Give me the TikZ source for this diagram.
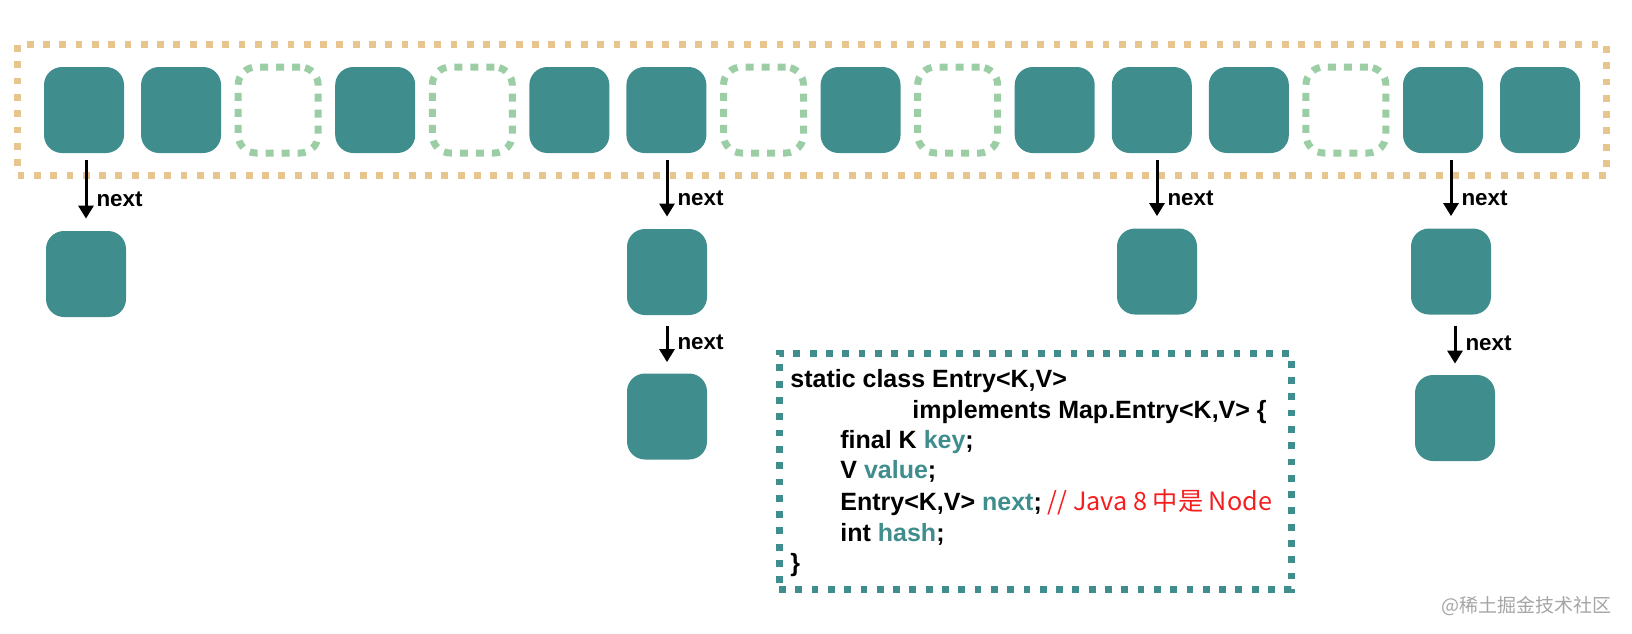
\documentclass[tikz,border=0pt]{standalone}
\usepackage{fontspec}
\setmainfont{Liberation Sans}
\newfontfamily\cjkfont{Noto Sans CJK SC}
\usepackage{tikz}
\usetikzlibrary{arrows.meta}
\usetikzlibrary{fit}
\usetikzlibrary{positioning}
\definecolor{slotTeal}{RGB}{64,141,142}
\definecolor{holeGreen}{RGB}{155,206,165}
\definecolor{bucketOrange}{RGB}{232,196,142}
\definecolor{commentRed}{RGB}{245,30,30}
\definecolor{markGray}{RGB}{165,165,165}
\tikzstyle{slot}=[rectangle, rounded corners=9pt, fill=slotTeal, minimum width=40pt, minimum height=43pt, inner sep=0pt]
\tikzstyle{hole}=[rectangle, rounded corners=9pt, draw=holeGreen, line width=3.5pt, dash pattern=on 4pt off 4pt, minimum width=40pt, minimum height=43pt, inner sep=0pt]
\tikzstyle{bucket}=[rectangle, draw=bucketOrange, line width=3.5pt, dash pattern=on 3.4pt off 4.75pt, inner xsep=13pt, inner ysep=11pt]
\tikzstyle{link}=[-{Triangle[width=7.5pt,length=6.5pt]}, line width=1.5pt, shorten <=3.5pt, shorten >=6pt]
\tikzstyle{linkLabel}=[anchor=west, inner sep=0pt, xshift=4.5pt, font=\bfseries\fontsize{11.2pt}{13pt}\selectfont]
\tikzstyle{entrybox}=[rectangle, draw=slotTeal, line width=3.5pt, dash pattern=on 3.4pt off 4.75pt, minimum width=256pt, minimum height=118pt]
\tikzstyle{codeline}=[anchor=base west, inner sep=0pt, font=\bfseries\fontsize{12.5pt}{15pt}\selectfont]
\newcommand{\fieldname}[1]{\textcolor{slotTeal}{#1}}

\begin{document}
\begin{tikzpicture}[x=0.5pt, y=-0.5pt]
	\useasboundingbox (0,0) rectangle (1632,633);
	% the table
	\foreach \kind [count=\i] in {slot,slot,hole,slot,hole,slot,slot,hole,slot,hole,slot,slot,slot,hole,slot,slot}
		\draw ({84+97.07*(\i-1)},110) node[\kind] (b\i) {};
	\node[bucket, fit=(b1) (b16)] (table) {};
	% chains
	\draw (86,274) node[slot] (c1) {};
	\draw (667,272) node[slot] (c7) {};
	\draw (667,416.5) node[slot] (d7) {};
	\draw (1157,271.5) node[slot] (c12) {};
	\draw (1451,271.5) node[slot] (c15) {};
	\draw (1455,418) node[slot] (d15) {};
	\draw[link] (c1.north |- b1.south) -- (c1.north) node[linkLabel, pos=0.6] {next};
	\draw[link] (c7.north |- b7.south) -- (c7.north) node[linkLabel, pos=0.6] {next};
	\draw[link] (c12.north |- b12.south) -- (c12.north) node[linkLabel, pos=0.6] {next};
	\draw[link] (c15.north |- b15.south) -- (c15.north) node[linkLabel, pos=0.6] {next};
	\draw[link, shorten <=5.5pt, shorten >=5.5pt] (d7.north |- c7.south) -- (d7.north) node[linkLabel, pos=0.47] {next};
	\draw[link, shorten <=5.5pt, shorten >=5.5pt] (d15.north |- c15.south) -- (d15.north) node[linkLabel, pos=0.47] {next};
	% Entry
	\draw (1035,471) node[entrybox] (entry) {};
	\draw (790,387) node[codeline] (l1) {static class Entry<K,V>};
	\draw (912,418) node[codeline] (l2) {implements Map.Entry<K,V> \{};
	\draw (840,448) node[codeline] (l3) {final K \fieldname{key};};
	\draw (840,478) node[codeline] (l4) {V \fieldname{value};};
	\draw (840,510) node[codeline] (l5) {Entry<K,V> \fieldname{next};\hspace{3pt}{\cjkfont\mdseries\fontsize{12.6pt}{15pt}\selectfont\color{commentRed}// Java 8 中是 Node}};
	\draw (840,541) node[codeline] (l6) {int \fieldname{hash};};
	\draw (790,571) node[codeline] (l7) {\}};
	\draw (1612,606) node[anchor=east, inner sep=0pt, font=\cjkfont\fontsize{9.5pt}{11pt}\selectfont, text=markGray] (mark) {@稀土掘金技术社区};
\end{tikzpicture}
\end{document}
